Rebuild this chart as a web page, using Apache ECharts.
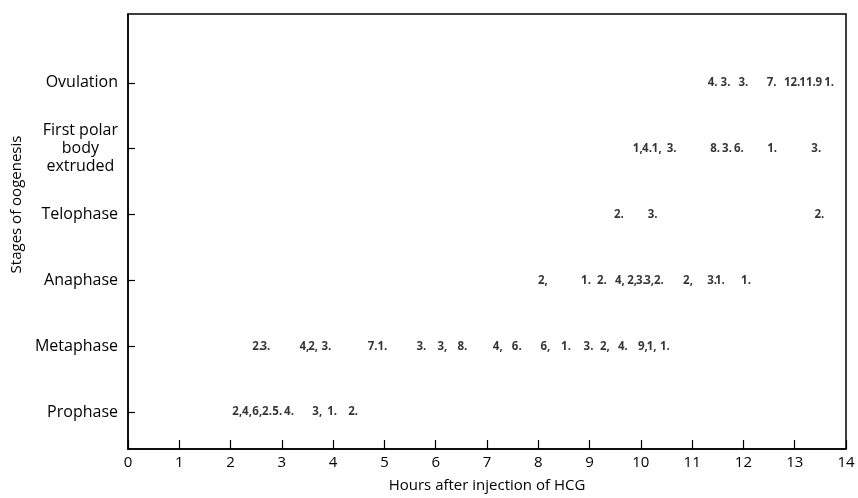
<!DOCTYPE html>
<html>
<head>
<meta charset="utf-8">
<script src="https://cdn.jsdelivr.net/npm/echarts@6/dist/echarts.min.js"></script>
<style>html,body{margin:0;padding:0;background:#fff}#c{width:858px;height:498px}</style>
</head>
<body>
<div id="c"></div>
<script>
const stageNames = ['Prophase', 'Metaphase', 'Anaphase', 'Telophase', 'First polar\nbody\nextruded', 'Ovulation'];
const xTicks = [0,1,2,3,4,5,6,7,8,9,10,11,12,13,14];

const prophaseHours  = [2.13, 2.32, 2.52, 2.71, 2.91, 3.14, 3.69, 3.98, 4.39];
const prophaseLabels = ['2,', '4,', '6,', '2.', '5.', '4.', '3,', '1.', '2.'];

const metaphaseHours  = [2.52, 2.68, 3.44, 3.61, 3.87, 4.77, 4.96, 5.72, 6.13, 6.52, 7.21, 7.58, 8.14, 8.54, 8.98, 9.3, 9.65, 10.04, 10.21, 10.47];
const metaphaseLabels = ['2.', '3.', '4,', '2,', '3.', '7.', '1.', '3.', '3,', '8.', '4,', '6.', '6,', '1.', '3.', '2,', '4.', '9,', '1,', '1.'];

const anaphaseHours  = [8.09, 8.93, 9.24, 9.59, 9.83, 10.0, 10.16, 10.35, 10.92, 11.39, 11.54, 12.05];
const anaphaseLabels = ['2,', '1.', '2.', '4,', '2,', '3.', '3,', '2.', '2,', '3.', '1.', '1.'];

const telophaseHours  = [9.57, 10.23, 13.48];
const telophaseLabels = ['2.', '3.', '2.'];

const polarHours  = [9.94, 10.12, 10.31, 10.6, 11.45, 11.68, 11.91, 12.56, 13.42];
const polarLabels = ['1,', '4.', '1,', '3.', '8.', '3.', '6.', '1.', '3.'];

const ovulationHours  = [11.4, 11.65, 12.0, 12.55, 12.95, 13.25, 13.47, 13.67];
const ovulationLabels = ['4.', '3.', '3.', '7.', '12.', '11.', '9', '1.'];

const rows = [
  [prophaseHours, prophaseLabels],
  [metaphaseHours, metaphaseLabels],
  [anaphaseHours, anaphaseLabels],
  [telophaseHours, telophaseLabels],
  [polarHours, polarLabels],
  [ovulationHours, ovulationLabels]
];

const FONT = "'Open Sans', 'Noto Sans', sans-serif";

const series = rows.map(([hours, labels], idx) => ({
  type: 'scatter',
  symbol: 'circle',
  symbolSize: 1,
  itemStyle: { color: 'rgba(0,0,0,0)' },
  silent: true,
  label: {
    show: true,
    position: 'inside',
    formatter: p => p.data[2],
    color: '#000',
    fontFamily: FONT,
    fontWeight: 'bold',
    fontSize: 11.5
  },
  data: hours.map((h, i) => [h, idx, labels[i]])
}));

const chart = echarts.init(document.getElementById('c'));
chart.setOption({
  backgroundColor: '#fff',
  animation: false,
  grid: { left: 128, right: 12, top: 14, bottom: 48, show: true, borderColor: '#000', borderWidth: 1.5 },
  xAxis: {
    type: 'value',
    min: 0, max: 14, interval: 1,
    splitLine: { show: false },
    axisLine: { show: true, onZero: false, lineStyle: { color: '#000', width: 1.5 } },
    axisTick: { show: true, inside: true, length: 9, lineStyle: { color: '#000', width: 1.2 } },
    axisLabel: { color: '#000', fontFamily: FONT, fontSize: 15, margin: 6, formatter: v => xTicks.includes(v) ? String(v) : '' },
    name: 'Hours after injection of HCG',
    nameLocation: 'middle',
    nameGap: 29,
    nameTextStyle: { color: '#000', fontFamily: FONT, fontSize: 15 }
  },
  yAxis: {
    type: 'value',
    min: -0.56, max: 6.045,
    splitLine: { show: false },
    axisLine: { show: true, onZero: false, lineStyle: { color: '#000', width: 1.5 } },
    axisTick: { show: true, inside: true, length: 7, customValues: [0,1,2,3,4,5], lineStyle: { color: '#000', width: 1.2 } },
    axisLabel: {
      color: '#000', fontFamily: FONT, fontSize: 16, margin: 10,
      customValues: [0,1,2,3,4,5],
      formatter: v => {
        const s = stageNames[Math.round(v)];
        if (s.indexOf('\n') >= 0) return s.split('\n').map(t => '{c|' + t + '}').join('\n');
        return s;
      },
      rich: { c: { align: 'center', color: '#000', fontFamily: FONT, fontSize: 16, lineHeight: 18 } }
    },
    name: 'Stages of oogenesis',
    nameLocation: 'middle',
    nameGap: 102,
    nameTextStyle: { color: '#000', fontFamily: FONT, fontSize: 15, padding: [0, 0, 0, 54] }
  },
  series: series
});
</script>
</body>
</html>
